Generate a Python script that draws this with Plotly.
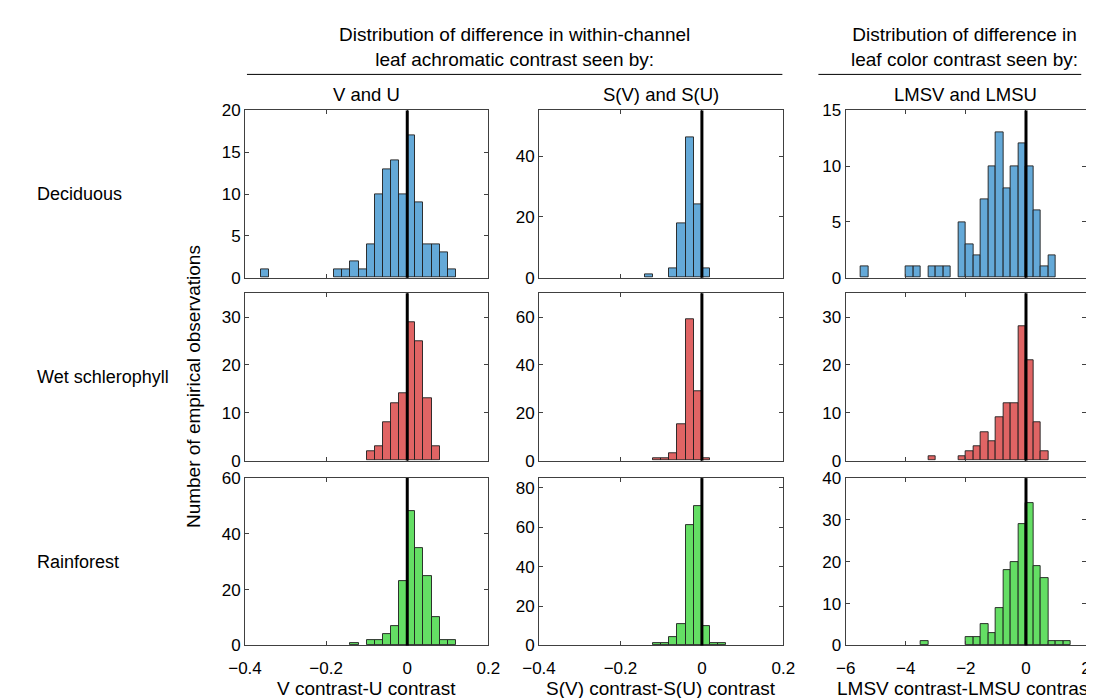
import plotly.graph_objects as go

# ---------------- data (bin centres and counts) ----------------
dec_vu_x = [-0.35, -0.17, -0.15, -0.13, -0.11, -0.09, -0.07, -0.05, -0.03, -0.01, 0.01, 0.03, 0.05, 0.07, 0.09, 0.11]
dec_vu_n = [1, 1, 1, 2, 1, 4, 10, 13, 14, 10, 17, 9, 4, 4, 3, 1]
wet_vu_x = [-0.09, -0.07, -0.05, -0.03, -0.01, 0.01, 0.03, 0.05, 0.07]
wet_vu_n = [2, 3, 8, 12, 14, 29, 25, 13, 3]
rain_vu_x = [-0.13, -0.09, -0.07, -0.05, -0.03, -0.01, 0.01, 0.03, 0.05, 0.07, 0.09, 0.11]
rain_vu_n = [1, 2, 2, 4, 7, 23, 48, 35, 25, 10, 2, 2]

dec_s_x = [-0.13, -0.07, -0.05, -0.03, -0.01, 0.01]
dec_s_n = [1, 3, 18, 46, 24, 3]
wet_s_x = [-0.11, -0.09, -0.07, -0.05, -0.03, -0.01, 0.01]
wet_s_n = [1, 1, 3, 15, 59, 29, 1]
rain_s_x = [-0.11, -0.09, -0.07, -0.05, -0.03, -0.01, 0.01, 0.03, 0.05]
rain_s_n = [1, 1, 4, 11, 61, 71, 10, 1, 1]

dec_lms_x = [-5.375, -3.875, -3.625, -3.125, -2.875, -2.625, -2.125, -1.875, -1.625, -1.375,
             -1.125, -0.875, -0.625, -0.375, -0.125, 0.125, 0.375, 0.625, 0.875]
dec_lms_n = [1, 1, 1, 1, 1, 1, 5, 3, 2, 7, 10, 13, 8, 10, 12, 10, 6, 1, 2]
wet_lms_x = [-3.125, -2.125, -1.875, -1.625, -1.375, -1.125, -0.875, -0.625, -0.375, -0.125, 0.125, 0.375, 0.625]
wet_lms_n = [1, 1, 2, 3, 6, 4, 9, 12, 12, 28, 21, 8, 2]
rain_lms_x = [-3.375, -1.875, -1.625, -1.375, -1.125, -0.875, -0.625, -0.375, -0.125, 0.125, 0.375,
              0.625, 0.875, 1.125, 1.375]
rain_lms_n = [1, 2, 2, 5, 3, 9, 18, 20, 29, 34, 19, 16, 1, 1, 1]

row_labels = ["Deciduous", "Wet schlerophyll", "Rainforest"]
col_titles = ["V and U", "S(V) and S(U)", "LMSV and LMSU"]
x_titles = ["V contrast-U contrast", "S(V) contrast-S(U) contrast", "LMSV contrast-LMSU contrast"]
bin_widths = [0.02, 0.02, 0.25]
x_ranges = [[-0.4, 0.2], [-0.4, 0.2], [-6, 2]]
x_ticks = [[-0.4, -0.2, 0, 0.2], [-0.4, -0.2, 0, 0.2], [-6, -4, -2, 0, 2]]
y_max = [[20, 55, 15], [35, 70, 35], [60, 85, 40]]
y_dtick = [[5, 20, 5], [10, 20, 10], [20, 20, 10]]

panels = [
    [(dec_vu_x, dec_vu_n), (dec_s_x, dec_s_n), (dec_lms_x, dec_lms_n)],
    [(wet_vu_x, wet_vu_n), (wet_s_x, wet_s_n), (wet_lms_x, wet_lms_n)],
    [(rain_vu_x, rain_vu_n), (rain_s_x, rain_s_n), (rain_lms_x, rain_lms_n)],
]
row_colors = ["#64A9D8", "#E06464", "#64DE64"]

# ---------------- layout geometry (pixels) ----------------
W, H = 1094, 698
col_px = [(226, 476), (528, 779), (843, 1090)]
row_px = [(96, 268), (284, 456), (474, 646)]

def px(xp):
    return xp / W

def py(yp):
    return 1 - yp / H

FONT = "Liberation Sans, Arial, Helvetica, sans-serif"
AX = "#404040"
TICK_FS = 17

fig = go.Figure()
layout = dict(
    width=W, height=H, margin=dict(l=0, r=0, t=0, b=0),
    paper_bgcolor="white", plot_bgcolor="white", showlegend=False,
    font=dict(family=FONT, size=18, color="black"),
    bargap=0,
)
shapes = []
annotations = []

for r in range(3):
    for c in range(3):
        k = r * 3 + c + 1
        xa = "x" if k == 1 else f"x{k}"
        ya = "y" if k == 1 else f"y{k}"
        xs, ns = panels[r][c]
        fig.add_trace(go.Bar(
            x=xs, y=ns, width=bin_widths[c], xaxis=xa, yaxis=ya,
            marker=dict(color=row_colors[r], line=dict(color="rgba(30,30,30,0.9)", width=1)),
            hoverinfo="x+y",
        ))
        xkey = "xaxis" if k == 1 else f"xaxis{k}"
        ykey = "yaxis" if k == 1 else f"yaxis{k}"
        layout[xkey] = dict(
            domain=[px(col_px[c][0]), px(col_px[c][1])], anchor=ya,
            range=x_ranges[c], tickvals=x_ticks[c], ticks="inside", ticklen=4,
            tickcolor=AX, showline=True, linecolor=AX, linewidth=1, mirror="ticks",
            showgrid=False, zeroline=False, showticklabels=(r == 2),
            ticklabelstandoff=7, ticklabeloverflow="allow",
            tickfont=dict(size=TICK_FS, family=FONT),
        )
        layout[ykey] = dict(
            domain=[py(row_px[r][1]), py(row_px[r][0])], anchor=xa,
            range=[0, y_max[r][c]], dtick=y_dtick[r][c], tick0=0, ticks="inside", ticklen=4,
            tickcolor=AX, showline=True, linecolor=AX, linewidth=1, mirror="ticks",
            showgrid=False, zeroline=False, tickfont=dict(size=TICK_FS, family=FONT),
        )
        shapes.append(dict(type="line", xref=xa, yref=f"{ya} domain", x0=0, x1=0, y0=0, y1=1,
                           line=dict(color="black", width=3)))

# row labels
for r, lab in enumerate(row_labels):
    yc = (row_px[r][0] + row_px[r][1]) / 2
    annotations.append(dict(text=lab, x=px(10), y=py(yc), xref="paper", yref="paper",
                            xanchor="left", yanchor="middle", showarrow=False,
                            font=dict(size=18, family=FONT)))
# column titles
for c, t in enumerate(col_titles):
    xc = (col_px[c][0] + col_px[c][1]) / 2
    annotations.append(dict(text=t, x=px(xc), y=py(80), xref="paper", yref="paper",
                            xanchor="center", yanchor="middle", showarrow=False,
                            font=dict(size=18.5, family=FONT)))
# x titles
for c, t in enumerate(x_titles):
    xc = (col_px[c][0] + col_px[c][1]) / 2
    annotations.append(dict(text=t, x=px(xc), y=py(690), xref="paper", yref="paper",
                            xanchor="center", yanchor="middle", showarrow=False,
                            font=dict(size=19, family=FONT)))
# y title
annotations.append(dict(text="Number of empirical observations", x=px(173), y=py(380),
                        xref="paper", yref="paper", xanchor="center", yanchor="middle",
                        textangle=-90, showarrow=False, font=dict(size=19, family=FONT)))
# headers
annotations.append(dict(text="Distribution of difference in within-channel<br>leaf achromatic contrast seen by:",
                        x=px(503), y=py(31), xref="paper", yref="paper", xanchor="center",
                        yanchor="middle", showarrow=False, align="center",
                        font=dict(size=19, family=FONT)))
annotations.append(dict(text="Distribution of difference in<br>leaf color contrast seen by:",
                        x=px(965), y=py(31), xref="paper", yref="paper", xanchor="center",
                        yanchor="middle", showarrow=False, align="center",
                        font=dict(size=19, family=FONT)))
shapes.append(dict(type="line", xref="paper", yref="paper", x0=px(228), x1=px(778),
                   y0=py(59), y1=py(59), line=dict(color="black", width=1)))
shapes.append(dict(type="line", xref="paper", yref="paper", x0=px(815), x1=px(1085),
                   y0=py(59), y1=py(59), line=dict(color="black", width=1)))

layout["shapes"] = shapes
layout["annotations"] = annotations
fig.update_layout(**layout)
fig.write_html("out.html")
